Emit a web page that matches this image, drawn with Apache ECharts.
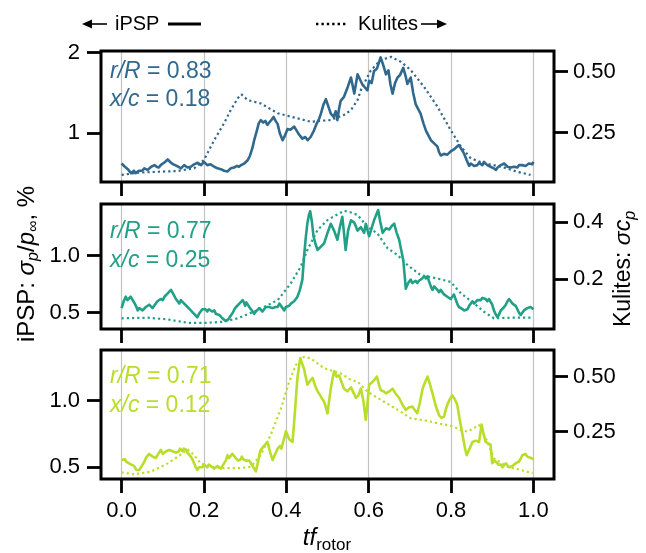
<!DOCTYPE html>
<html>
<head>
<meta charset="utf-8">
<script src="https://cdn.jsdelivr.net/npm/echarts@6/dist/echarts.min.js"></script>
<style>html,body{margin:0;padding:0;background:#fff}#c{width:646px;height:553px}</style>
</head>
<body>
<div id="c"></div>
<script>
// ---------------- DATA ----------------
const xTicks = [0, 0.2, 0.4, 0.6, 0.8, 1.0];
const yTicksL1 = [1, 2];
const yTicksR1 = [0.25, 0.50];
const yTicksL2 = [0.5, 1.0];
const yTicksR2 = [0.2, 0.4];
const yTicksL3 = [0.5, 1.0];
const yTicksR3 = [0.25, 0.50];

const panelLabels = [
  { rR: '0.83', xc: '0.18' },
  { rR: '0.77', xc: '0.25' },
  { rR: '0.71', xc: '0.12' }
];

// Panel 1 (r/R = 0.83), iPSP [t, sigma_p/p_inf %]
const ipsp1 = [[0.000,0.62],[0.004,0.60],[0.008,0.58],[0.012,0.57],[0.015,0.55],[0.019,0.53],[0.023,0.50],[0.027,0.52],[0.030,0.53],[0.034,0.50],[0.038,0.51],[0.042,0.53],[0.046,0.55],[0.050,0.53],[0.055,0.56],[0.059,0.54],[0.063,0.54],[0.067,0.56],[0.072,0.58],[0.076,0.57],[0.080,0.60],[0.085,0.58],[0.090,0.57],[0.095,0.60],[0.100,0.62],[0.106,0.64],[0.112,0.67],[0.116,0.65],[0.120,0.63],[0.125,0.61],[0.130,0.60],[0.134,0.61],[0.138,0.58],[0.141,0.57],[0.144,0.56],[0.148,0.58],[0.152,0.60],[0.156,0.58],[0.160,0.57],[0.164,0.59],[0.168,0.58],[0.172,0.60],[0.176,0.61],[0.180,0.60],[0.185,0.63],[0.189,0.61],[0.193,0.60],[0.197,0.62],[0.200,0.64],[0.204,0.62],[0.208,0.60],[0.212,0.62],[0.216,0.61],[0.220,0.59],[0.225,0.58],[0.229,0.57],[0.233,0.56],[0.237,0.57],[0.241,0.55],[0.245,0.54],[0.249,0.53],[0.253,0.54],[0.257,0.52],[0.261,0.54],[0.265,0.56],[0.269,0.55],[0.273,0.57],[0.277,0.58],[0.280,0.59],[0.285,0.58],[0.290,0.60],[0.294,0.61],[0.298,0.62],[0.302,0.64],[0.306,0.66],[0.312,0.72],[0.318,0.82],[0.322,0.91],[0.328,1.02],[0.333,1.12],[0.338,1.16],[0.344,1.13],[0.349,1.15],[0.354,1.10],[0.360,1.14],[0.365,1.17],[0.369,1.20],[0.374,1.15],[0.379,1.11],[0.384,1.00],[0.391,0.91],[0.396,0.96],[0.403,1.05],[0.410,1.04],[0.419,1.08],[0.425,1.03],[0.431,0.98],[0.439,0.93],[0.446,0.95],[0.452,0.91],[0.459,0.95],[0.467,1.03],[0.474,1.12],[0.480,1.18],[0.484,1.24],[0.490,1.35],[0.496,1.42],[0.502,1.33],[0.508,1.24],[0.515,1.20],[0.520,1.27],[0.524,1.16],[0.528,1.30],[0.532,1.40],[0.540,1.45],[0.549,1.57],[0.557,1.69],[0.565,1.49],[0.573,1.73],[0.577,1.71],[0.585,1.60],[0.589,1.61],[0.597,1.53],[0.601,1.65],[0.607,1.62],[0.613,1.77],[0.620,1.80],[0.629,1.94],[0.635,1.85],[0.642,1.73],[0.648,1.78],[0.653,1.60],[0.658,1.49],[0.664,1.62],[0.670,1.69],[0.676,1.72],[0.684,1.81],[0.690,1.70],[0.694,1.61],[0.702,1.69],[0.708,1.50],[0.714,1.36],[0.720,1.30],[0.726,1.24],[0.733,1.12],[0.739,1.03],[0.745,0.97],[0.751,0.91],[0.759,0.87],[0.767,0.83],[0.771,0.76],[0.775,0.72],[0.783,0.74],[0.791,0.73],[0.799,0.77],[0.808,0.80],[0.819,0.85],[0.825,0.80],[0.831,0.75],[0.838,0.66],[0.844,0.59],[0.848,0.62],[0.852,0.61],[0.856,0.59],[0.860,0.61],[0.864,0.60],[0.868,0.63],[0.872,0.62],[0.876,0.60],[0.880,0.64],[0.884,0.62],[0.888,0.60],[0.892,0.61],[0.896,0.58],[0.900,0.59],[0.904,0.56],[0.909,0.54],[0.913,0.57],[0.917,0.58],[0.921,0.60],[0.925,0.59],[0.929,0.62],[0.933,0.60],[0.937,0.58],[0.941,0.59],[0.945,0.57],[0.949,0.56],[0.953,0.58],[0.957,0.59],[0.961,0.57],[0.965,0.60],[0.969,0.62],[0.973,0.60],[0.977,0.58],[0.981,0.59],[0.985,0.60],[0.989,0.62],[0.993,0.63],[0.997,0.61],[1.000,0.64]];
// Panel 1, Kulites [t, sigma_cp]
const kul1 = [[0.000,0.077],[0.039,0.086],[0.087,0.090],[0.136,0.093],[0.176,0.104],[0.200,0.138],[0.225,0.220],[0.249,0.289],[0.265,0.343],[0.282,0.391],[0.291,0.407],[0.306,0.384],[0.338,0.370],[0.379,0.330],[0.411,0.316],[0.459,0.295],[0.508,0.302],[0.540,0.323],[0.557,0.343],[0.573,0.384],[0.581,0.425],[0.605,0.505],[0.629,0.548],[0.654,0.561],[0.678,0.541],[0.702,0.507],[0.734,0.439],[0.767,0.357],[0.799,0.261],[0.824,0.193],[0.848,0.145],[0.880,0.125],[0.921,0.111],[0.961,0.090],[0.993,0.077]];

// Panel 2 (r/R = 0.77), iPSP
const ipsp2 = [[0.000,0.54],[0.005,0.60],[0.010,0.64],[0.014,0.61],[0.018,0.62],[0.022,0.64],[0.026,0.65],[0.032,0.58],[0.036,0.55],[0.039,0.52],[0.043,0.54],[0.047,0.55],[0.051,0.52],[0.055,0.53],[0.059,0.55],[0.063,0.54],[0.067,0.57],[0.071,0.56],[0.075,0.54],[0.079,0.55],[0.083,0.58],[0.087,0.60],[0.091,0.59],[0.095,0.62],[0.100,0.61],[0.104,0.64],[0.108,0.63],[0.112,0.67],[0.116,0.66],[0.120,0.70],[0.123,0.68],[0.126,0.66],[0.132,0.62],[0.136,0.60],[0.140,0.58],[0.144,0.61],[0.148,0.60],[0.152,0.58],[0.155,0.57],[0.160,0.55],[0.164,0.54],[0.168,0.52],[0.172,0.53],[0.176,0.49],[0.180,0.48],[0.184,0.46],[0.188,0.49],[0.192,0.50],[0.196,0.53],[0.200,0.52],[0.204,0.53],[0.208,0.51],[0.212,0.53],[0.216,0.54],[0.220,0.51],[0.225,0.52],[0.229,0.49],[0.233,0.50],[0.237,0.48],[0.241,0.47],[0.245,0.45],[0.249,0.44],[0.252,0.43],[0.256,0.42],[0.259,0.44],[0.262,0.45],[0.266,0.48],[0.270,0.50],[0.274,0.53],[0.278,0.55],[0.282,0.54],[0.286,0.58],[0.290,0.57],[0.294,0.61],[0.297,0.59],[0.300,0.56],[0.303,0.59],[0.306,0.58],[0.310,0.55],[0.314,0.53],[0.318,0.51],[0.322,0.49],[0.326,0.51],[0.330,0.51],[0.334,0.54],[0.338,0.53],[0.342,0.51],[0.346,0.52],[0.350,0.55],[0.354,0.54],[0.358,0.55],[0.362,0.56],[0.366,0.54],[0.370,0.53],[0.374,0.55],[0.379,0.55],[0.383,0.58],[0.387,0.57],[0.391,0.54],[0.395,0.52],[0.399,0.55],[0.403,0.54],[0.407,0.56],[0.411,0.58],[0.415,0.57],[0.419,0.60],[0.423,0.61],[0.427,0.64],[0.433,0.70],[0.439,0.79],[0.443,0.99],[0.447,1.15],[0.451,1.28],[0.455,1.36],[0.458,1.39],[0.462,1.30],[0.466,1.17],[0.471,1.10],[0.476,1.05],[0.484,1.08],[0.492,1.11],[0.500,1.20],[0.508,1.28],[0.516,1.22],[0.524,1.14],[0.530,1.25],[0.536,1.34],[0.540,1.20],[0.544,1.05],[0.550,1.22],[0.557,1.31],[0.565,1.29],[0.573,1.22],[0.581,1.25],[0.589,1.20],[0.593,1.28],[0.601,1.17],[0.607,1.24],[0.613,1.31],[0.623,1.40],[0.628,1.30],[0.634,1.20],[0.642,1.24],[0.650,1.23],[0.656,1.26],[0.662,1.28],[0.668,1.20],[0.674,1.14],[0.679,1.05],[0.684,0.96],[0.688,0.80],[0.690,0.71],[0.696,0.76],[0.702,0.79],[0.706,0.76],[0.710,0.75],[0.714,0.78],[0.718,0.76],[0.722,0.78],[0.726,0.79],[0.730,0.80],[0.735,0.82],[0.739,0.80],[0.743,0.82],[0.746,0.78],[0.749,0.75],[0.752,0.72],[0.755,0.70],[0.759,0.73],[0.763,0.72],[0.767,0.70],[0.771,0.68],[0.775,0.70],[0.779,0.68],[0.783,0.66],[0.787,0.67],[0.791,0.64],[0.795,0.63],[0.799,0.62],[0.803,0.64],[0.807,0.66],[0.810,0.63],[0.813,0.60],[0.816,0.57],[0.819,0.55],[0.824,0.54],[0.828,0.53],[0.832,0.52],[0.836,0.51],[0.840,0.53],[0.844,0.56],[0.848,0.58],[0.852,0.60],[0.856,0.58],[0.860,0.59],[0.864,0.61],[0.868,0.62],[0.872,0.61],[0.876,0.63],[0.880,0.64],[0.884,0.62],[0.888,0.60],[0.892,0.62],[0.896,0.61],[0.900,0.57],[0.904,0.52],[0.908,0.49],[0.913,0.46],[0.917,0.49],[0.921,0.52],[0.925,0.53],[0.929,0.55],[0.933,0.57],[0.937,0.60],[0.941,0.62],[0.945,0.60],[0.949,0.58],[0.953,0.57],[0.957,0.56],[0.961,0.53],[0.965,0.50],[0.969,0.48],[0.973,0.50],[0.977,0.52],[0.981,0.51],[0.985,0.54],[0.989,0.53],[0.993,0.55],[0.997,0.54],[1.000,0.53]];
// Panel 2, Kulites
const kul2 = [[0.000,0.060],[0.063,0.062],[0.112,0.056],[0.160,0.044],[0.208,0.044],[0.249,0.048],[0.282,0.060],[0.330,0.089],[0.379,0.124],[0.411,0.184],[0.435,0.243],[0.451,0.302],[0.476,0.373],[0.500,0.408],[0.540,0.441],[0.557,0.435],[0.573,0.426],[0.597,0.384],[0.621,0.361],[0.646,0.308],[0.670,0.284],[0.694,0.249],[0.726,0.213],[0.767,0.201],[0.799,0.189],[0.824,0.148],[0.856,0.113],[0.880,0.083],[0.904,0.060],[0.945,0.062],[1.000,0.062]];

// Panel 3 (r/R = 0.71), iPSP
const ipsp3 = [[0.000,0.555],[0.004,0.57],[0.008,0.56],[0.012,0.54],[0.015,0.55],[0.018,0.53],[0.021,0.54],[0.024,0.52],[0.027,0.53],[0.030,0.51],[0.033,0.50],[0.036,0.48],[0.039,0.47],[0.043,0.48],[0.047,0.50],[0.051,0.52],[0.055,0.54],[0.059,0.57],[0.063,0.58],[0.067,0.60],[0.071,0.61],[0.075,0.58],[0.079,0.59],[0.083,0.57],[0.087,0.58],[0.091,0.61],[0.095,0.63],[0.100,0.60],[0.104,0.60],[0.108,0.62],[0.112,0.61],[0.116,0.63],[0.120,0.64],[0.124,0.62],[0.128,0.63],[0.132,0.61],[0.136,0.60],[0.139,0.62],[0.142,0.64],[0.145,0.63],[0.148,0.62],[0.151,0.64],[0.154,0.65],[0.157,0.63],[0.160,0.61],[0.164,0.60],[0.168,0.58],[0.172,0.56],[0.176,0.53],[0.180,0.50],[0.184,0.48],[0.188,0.50],[0.192,0.51],[0.196,0.50],[0.200,0.52],[0.204,0.51],[0.208,0.50],[0.212,0.52],[0.216,0.51],[0.220,0.50],[0.225,0.49],[0.229,0.50],[0.233,0.51],[0.237,0.50],[0.241,0.49],[0.245,0.51],[0.249,0.50],[0.253,0.55],[0.257,0.59],[0.261,0.57],[0.265,0.58],[0.269,0.60],[0.273,0.59],[0.277,0.57],[0.280,0.56],[0.283,0.55],[0.286,0.54],[0.289,0.56],[0.292,0.58],[0.295,0.56],[0.298,0.57],[0.302,0.55],[0.306,0.54],[0.310,0.55],[0.314,0.53],[0.317,0.52],[0.320,0.50],[0.323,0.49],[0.326,0.47],[0.329,0.51],[0.332,0.55],[0.335,0.60],[0.338,0.63],[0.342,0.64],[0.346,0.66],[0.350,0.67],[0.354,0.69],[0.357,0.66],[0.360,0.62],[0.364,0.58],[0.367,0.555],[0.370,0.58],[0.373,0.60],[0.376,0.62],[0.379,0.64],[0.382,0.65],[0.385,0.66],[0.388,0.64],[0.391,0.65],[0.395,0.72],[0.399,0.77],[0.403,0.74],[0.407,0.71],[0.411,0.70],[0.415,0.69],[0.418,0.80],[0.421,0.92],[0.424,1.05],[0.427,1.17],[0.431,1.26],[0.434,1.32],[0.438,1.28],[0.443,1.24],[0.447,1.18],[0.451,1.12],[0.458,1.15],[0.464,1.17],[0.470,1.11],[0.476,1.07],[0.484,1.03],[0.492,0.99],[0.496,0.95],[0.500,0.905],[0.504,1.00],[0.508,1.09],[0.512,1.16],[0.516,1.22],[0.522,1.18],[0.528,1.19],[0.534,1.14],[0.540,1.09],[0.548,1.07],[0.557,1.10],[0.563,1.06],[0.569,1.02],[0.575,1.04],[0.581,1.09],[0.587,1.00],[0.593,0.855],[0.597,0.98],[0.601,1.12],[0.609,1.14],[0.615,1.16],[0.620,1.18],[0.625,1.12],[0.629,1.08],[0.636,1.07],[0.642,1.055],[0.650,1.07],[0.658,1.09],[0.666,1.05],[0.674,1.02],[0.682,0.97],[0.690,0.93],[0.698,0.95],[0.706,0.955],[0.712,0.93],[0.718,0.905],[0.724,0.98],[0.731,1.09],[0.737,1.14],[0.743,1.18],[0.749,1.12],[0.755,1.055],[0.763,0.96],[0.771,0.89],[0.777,0.87],[0.783,0.88],[0.787,0.93],[0.791,0.97],[0.797,1.01],[0.803,1.04],[0.809,1.01],[0.815,0.97],[0.821,0.86],[0.828,0.74],[0.834,0.64],[0.838,0.59],[0.845,0.64],[0.852,0.69],[0.860,0.70],[0.868,0.69],[0.874,0.82],[0.879,0.75],[0.884,0.69],[0.890,0.68],[0.896,0.67],[0.900,0.53],[0.905,0.55],[0.910,0.54],[0.915,0.52],[0.921,0.52],[0.925,0.50],[0.929,0.51],[0.933,0.53],[0.937,0.52],[0.941,0.50],[0.945,0.49],[0.949,0.51],[0.953,0.51],[0.957,0.53],[0.961,0.52],[0.964,0.54],[0.967,0.55],[0.970,0.57],[0.973,0.59],[0.977,0.58],[0.981,0.60],[0.985,0.58],[0.989,0.59],[0.994,0.57],[1.000,0.56]];
// Panel 3, Kulites
const kul3 = [[0.000,0.065],[0.031,0.056],[0.071,0.068],[0.112,0.106],[0.136,0.136],[0.160,0.170],[0.176,0.144],[0.192,0.106],[0.216,0.091],[0.249,0.084],[0.289,0.084],[0.314,0.091],[0.338,0.144],[0.362,0.235],[0.387,0.356],[0.407,0.477],[0.423,0.553],[0.443,0.590],[0.459,0.583],[0.492,0.538],[0.532,0.515],[0.557,0.485],[0.573,0.477],[0.597,0.432],[0.637,0.386],[0.678,0.341],[0.702,0.311],[0.743,0.299],[0.767,0.288],[0.799,0.277],[0.824,0.258],[0.840,0.250],[0.868,0.280],[0.888,0.205],[0.904,0.129],[0.937,0.091],[0.969,0.076],[0.998,0.061]];

// ---------------- LAYOUT / STYLE ----------------
const FONT = '"Liberation Sans", Arial, Helvetica, sans-serif';
const colors = ['#31688e', '#21a087', '#b8de29'];
const xMin = -0.05, xMax = 1.05;
const frames = [
  { top: 51, height: 131, yl: [0.39, 2.02], yr: [0.048, 0.585], tl: yTicksL1, tr: yTicksR1, dl: 0, dr: 2, ann: [72, 100] },
  { top: 204, height: 125, yl: [0.357, 1.453], yr: [0.022, 0.465], tl: yTicksL2, tr: yTicksR2, dl: 1, dr: 1, ann: [232, 261] },
  { top: 350, height: 129, yl: [0.412, 1.38], yr: [0.035, 0.621], tl: yTicksL3, tr: yTicksR3, dl: 1, dr: 2, ann: [377, 406] }
];
const ipsp = [ipsp1, ipsp2, ipsp3];
const kul = [kul1, kul2, kul3];

const tickStyle = { color: '#000', width: 2.8 };
const TICK_FS = 22;
const grids = [], xAxes = [], yAxes = [], series = [], graphics = [];

frames.forEach((f, i) => {
  grids.push({ left: 101, right: 92, top: f.top, height: f.height, show: true,
    borderColor: '#000', borderWidth: 3, backgroundColor: 'transparent', z: 1 });
  xAxes.push({
    type: 'value', gridIndex: i, min: xMin, max: xMax, splitNumber: 5,
    axisLine: { show: false, onZero: false },
    axisTick: { show: true, customValues: xTicks, length: 14, lineStyle: tickStyle },
    axisLabel: { show: i === 2, customValues: xTicks, formatter: v => v.toFixed(1),
      fontSize: TICK_FS, color: '#000', fontFamily: FONT, margin: 21 },
    splitLine: { show: true, lineStyle: { color: '#c2c2c2', width: 1.2 } }
  });
  yAxes.push({
    type: 'value', gridIndex: i, position: 'left', min: f.yl[0], max: f.yl[1],
    axisLine: { show: false, onZero: false }, splitLine: { show: false },
    axisTick: { show: true, customValues: f.tl, length: 14, lineStyle: tickStyle },
    axisLabel: { customValues: f.tl, formatter: v => v.toFixed(f.dl), fontSize: TICK_FS,
      color: '#000', fontFamily: FONT, margin: 21 }
  });
  yAxes.push({
    type: 'value', gridIndex: i, position: 'right', min: f.yr[0], max: f.yr[1],
    axisLine: { show: false, onZero: false }, splitLine: { show: false },
    axisTick: { show: true, customValues: f.tr, length: 14, lineStyle: tickStyle },
    axisLabel: { customValues: f.tr, formatter: v => v.toFixed(f.dr), fontSize: TICK_FS,
      color: '#000', fontFamily: FONT, margin: 19 }
  });
  series.push({
    type: 'line', xAxisIndex: i, yAxisIndex: 2 * i, data: ipsp[i], showSymbol: false,
    lineStyle: { color: colors[i], width: 2.6, join: 'round' }, z: 3, silent: true
  });
  series.push({
    type: 'line', xAxisIndex: i, yAxisIndex: 2 * i + 1, data: kul[i], showSymbol: false,
    lineStyle: { color: colors[i], width: 2.2, type: [2.2, 3.0], cap: 'butt' }, z: 2, silent: true
  });
  const rich = {
    it: { fontStyle: 'italic', fontSize: 23, fontFamily: FONT, fill: colors[i] },
    n: { fontSize: 23, fontFamily: FONT, fill: colors[i] }
  };
  graphics.push({ type: 'text', x: 110, y: f.ann[0], z: 10,
    style: { text: '{it|r/R}{n| = ' + panelLabels[i].rR + '}', rich, verticalAlign: 'middle' } });
  graphics.push({ type: 'text', x: 110, y: f.ann[1], z: 10,
    style: { text: '{it|x/c}{n| = ' + panelLabels[i].xc + '}', rich, verticalAlign: 'middle' } });
});

// Top legend-like annotation
graphics.push({ type: 'polygon', shape: { points: [[82, 24], [92, 19.5], [92, 28.5]] }, style: { fill: '#000' } });
graphics.push({ type: 'line', shape: { x1: 90, y1: 24, x2: 107, y2: 24 }, style: { stroke: '#000', lineWidth: 1.6 } });
graphics.push({ type: 'text', x: 115, y: 24, style: { text: 'iPSP', font: '20px ' + FONT, fill: '#000', verticalAlign: 'middle' } });
graphics.push({ type: 'line', shape: { x1: 168, y1: 24, x2: 201, y2: 24 }, style: { stroke: '#000', lineWidth: 2.8 } });
graphics.push({ type: 'line', shape: { x1: 316, y1: 24, x2: 348, y2: 24 }, style: { stroke: '#000', lineWidth: 2.4, lineDash: [2.4, 3.0] } });
graphics.push({ type: 'text', x: 358, y: 24, style: { text: 'Kulites', font: '20px ' + FONT, fill: '#000', verticalAlign: 'middle' } });
graphics.push({ type: 'line', shape: { x1: 421, y1: 24, x2: 438, y2: 24 }, style: { stroke: '#000', lineWidth: 1.6 } });
graphics.push({ type: 'polygon', shape: { points: [[447, 24], [437, 19.5], [437, 28.5]] }, style: { fill: '#000' } });

// Axis titles
const titleRich = {
  n: { fontSize: 24, fontFamily: FONT, fill: '#000', lineHeight: 30 },
  it: { fontSize: 24, fontStyle: 'italic', fontFamily: FONT, fill: '#000', lineHeight: 30 },
  sub: { fontSize: 16, fontStyle: 'italic', fontFamily: FONT, fill: '#000', padding: [14, 0, 0, 0] },
  subn: { fontSize: 17, fontFamily: FONT, fill: '#000', padding: [14, 0, 0, 0] }
};
graphics.push({ type: 'text', x: 27, y: 264, rotation: Math.PI / 2, z: 10,
  style: { text: '{n|iPSP: }{it|\u03C3}{sub|p}{n|/}{it|p}{sub|\u221E}{n|, %}', rich: titleRich, align: 'center', verticalAlign: 'middle' } });
const titleRichR = {
  n: { fontSize: 23, fontFamily: FONT, fill: '#000', lineHeight: 29 },
  it: { fontSize: 23, fontStyle: 'italic', fontFamily: FONT, fill: '#000', lineHeight: 29 },
  sub: { fontSize: 16, fontStyle: 'italic', fontFamily: FONT, fill: '#000', padding: [14, 0, 0, 0] }
};
graphics.push({ type: 'text', x: 624, y: 269, rotation: Math.PI / 2, z: 10,
  style: { text: '{n|Kulites: }{it|\u03C3c}{sub|p}', rich: titleRichR, align: 'center', verticalAlign: 'middle' } });
graphics.push({ type: 'text', x: 327, y: 538, z: 10,
  style: { text: '{it|tf}{subn|rotor}', rich: titleRich, align: 'center', verticalAlign: 'middle' } });

const chart = echarts.init(document.getElementById('c'), null, { renderer: 'canvas' });
chart.setOption({
  animation: false,
  backgroundColor: '#fff',
  grid: grids, xAxis: xAxes, yAxis: yAxes, series: series, graphic: graphics
});
</script>
</body>
</html>
